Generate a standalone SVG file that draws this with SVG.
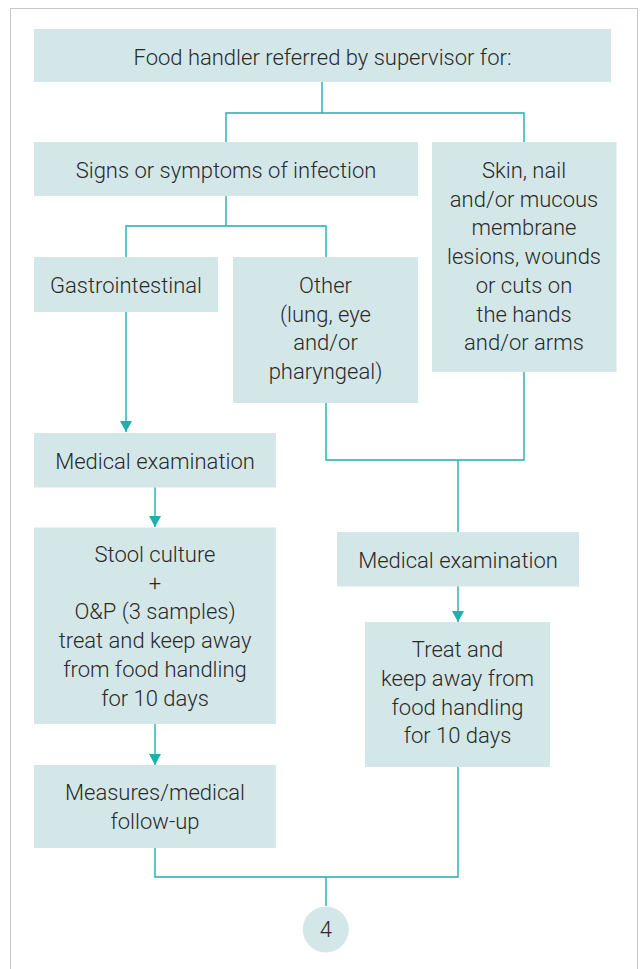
<svg xmlns="http://www.w3.org/2000/svg" width="641" height="969" viewBox="0 0 641 969">
<defs>
<style>
.box{fill:#d4e7e8;}
.t{font-family:Roboto,"Liberation Sans",sans-serif;font-weight:300;font-size:22px;fill:#2a2a2a;text-anchor:middle;}
.c{fill:none;stroke:#1eafaf;stroke-width:1.4;}
</style>
<marker id="ah" markerUnits="userSpaceOnUse" markerWidth="12" markerHeight="12" refX="11" refY="6" orient="auto">
<path d="M0,0 L11,6 L0,12 Z" fill="#1eafaf"/>
</marker>
</defs>
<rect x="0" y="0" width="641" height="969" fill="#ffffff"/>
<rect x="10.5" y="8.5" width="627" height="1000" fill="none" stroke="#c6c6c6" stroke-width="1"/>
<g id="connectors">
<path class="c" d="M226,142 V113 H524 V142 M322,82 V113"/>
<path class="c" d="M126,257 V226 H326 V257 M226,196 V226"/>
<path class="c" d="M126,312 V432" marker-end="url(#ah)"/>
<path class="c" d="M155,487 V527" marker-end="url(#ah)"/>
<path class="c" d="M155,724 V765" marker-end="url(#ah)"/>
<path class="c" d="M326,403 V460 H524 V372 M458,460 V532"/>
<path class="c" d="M458,586 V622" marker-end="url(#ah)"/>
<path class="c" d="M155,848 V877 H458 V767 M326,877 V906"/>
</g>
<g id="n-start">
<rect class="box" x="34" y="29" width="577" height="53"/>
<text class="t" x="322.5" y="64.5">Food handler referred by supervisor for:</text>
</g>
<g id="n-signs">
<rect class="box" x="34" y="142" width="384" height="54"/>
<text class="t" x="226" y="177.5">Signs or symptoms of infection</text>
</g>
<g id="n-skin">
<rect class="box" x="432" y="142" width="184.5" height="230"/>
<text class="t" x="524" y="178">Skin, nail</text>
<text class="t" x="524" y="206.7">and/or mucous</text>
<text class="t" x="524" y="235.4">membrane</text>
<text class="t" x="524" y="264.1">lesions, wounds</text>
<text class="t" x="524" y="292.8">or cuts on</text>
<text class="t" x="524" y="321.5">the hands</text>
<text class="t" x="524" y="350.2">and/or arms</text>
</g>
<g id="n-gastro">
<rect class="box" x="34" y="257" width="184" height="55"/>
<text class="t" x="126" y="293">Gastrointestinal</text>
</g>
<g id="n-other">
<rect class="box" x="233" y="257" width="185" height="146"/>
<text class="t" x="325.5" y="293">Other</text>
<text class="t" x="325.5" y="321.7">(lung, eye</text>
<text class="t" x="325.5" y="350.4">and/or</text>
<text class="t" x="325.5" y="379.1">pharyngeal)</text>
</g>
<g id="n-med-left">
<rect class="box" x="34" y="433" width="242" height="54.5"/>
<text class="t" x="155" y="469">Medical examination</text>
</g>
<g id="n-stool">
<rect class="box" x="34" y="527.5" width="242" height="196.5"/>
<text class="t" x="155" y="562">Stool culture</text>
<text class="t" x="155" y="590.7">+</text>
<text class="t" x="155" y="619.4">O&amp;P (3 samples)</text>
<text class="t" x="155" y="648.1">treat and keep away</text>
<text class="t" x="155" y="676.8">from food handling</text>
<text class="t" x="155" y="705.5">for 10 days</text>
</g>
<g id="n-measures">
<rect class="box" x="34" y="765" width="242" height="83"/>
<text class="t" x="155" y="800.3">Measures/medical</text>
<text class="t" x="155" y="829">follow-up</text>
</g>
<g id="n-med-right">
<rect class="box" x="337" y="532" width="242" height="54.5"/>
<text class="t" x="458" y="568">Medical examination</text>
</g>
<g id="n-treat">
<rect class="box" x="365" y="622" width="185" height="145"/>
<text class="t" x="457.5" y="657.3">Treat and</text>
<text class="t" x="457.5" y="686">keep away from</text>
<text class="t" x="457.5" y="714.7">food handling</text>
<text class="t" x="457.5" y="743.4">for 10 days</text>
</g>
<g id="n-4">
<circle class="box" cx="325.8" cy="929.5" r="23"/>
<text class="t" x="325.8" y="936.5">4</text>
</g>
</svg>
